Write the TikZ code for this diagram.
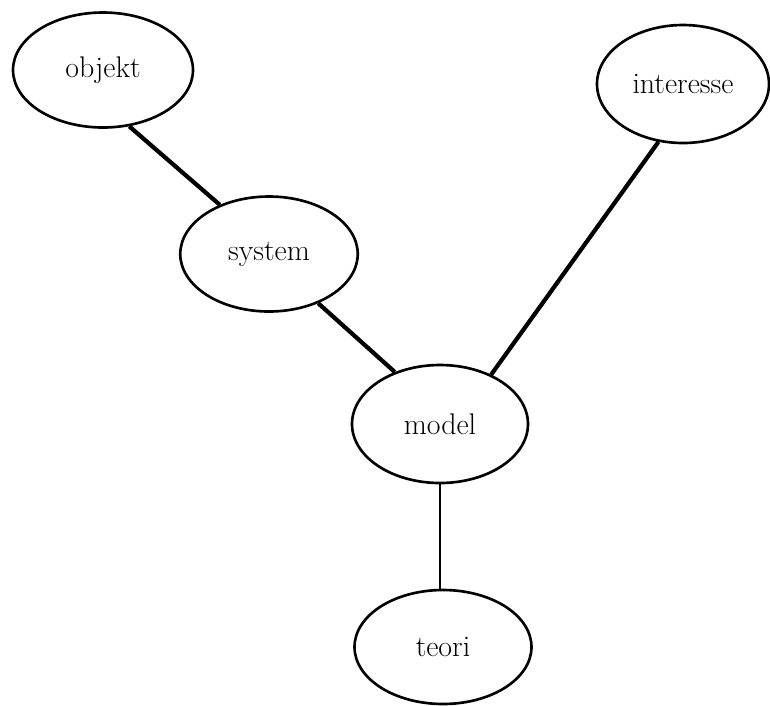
\documentclass[tikz,border=0pt]{standalone}
\usepackage{fontspec}
\usepackage{tikz}
\usetikzlibrary{shapes.geometric}

\begin{document}
\begin{tikzpicture}[
    concept/.style={ellipse, draw, line width=1.5pt, inner sep=0pt, minimum width=3.55cm, minimum height=2.3cm, font=\fontsize{17}{20}\selectfont},
    link/.style={line width=2.4pt},
    thinlink/.style={line width=1.2pt}
]
\useasboundingbox (0,0) rectangle (15.4,-14.1);

% Nodes
\node[concept, minimum width=3.6cm] (objekt) at (2.06,-1.40) {objekt};
\node[concept] (system) at (5.38,-5.08) {system};
\node[concept, minimum width=3.44cm, minimum height=2.36cm] (interesse) at (13.66,-1.68) {interesse};
\node[concept, minimum width=3.52cm, minimum height=2.36cm] (model) at (8.80,-8.48) {model};
\node[concept, minimum width=3.54cm, minimum height=2.28cm] (teori) at (8.86,-12.94) {teori};

% Connections
\draw[link] (objekt.-65) -- (system.135);
\draw[link] (system.-45) -- (model.131);
\draw[link] (interesse.-113) -- (model.44);
\draw[thinlink] (model.south) -- (model.south |- teori.north);

\end{tikzpicture}
\end{document}
